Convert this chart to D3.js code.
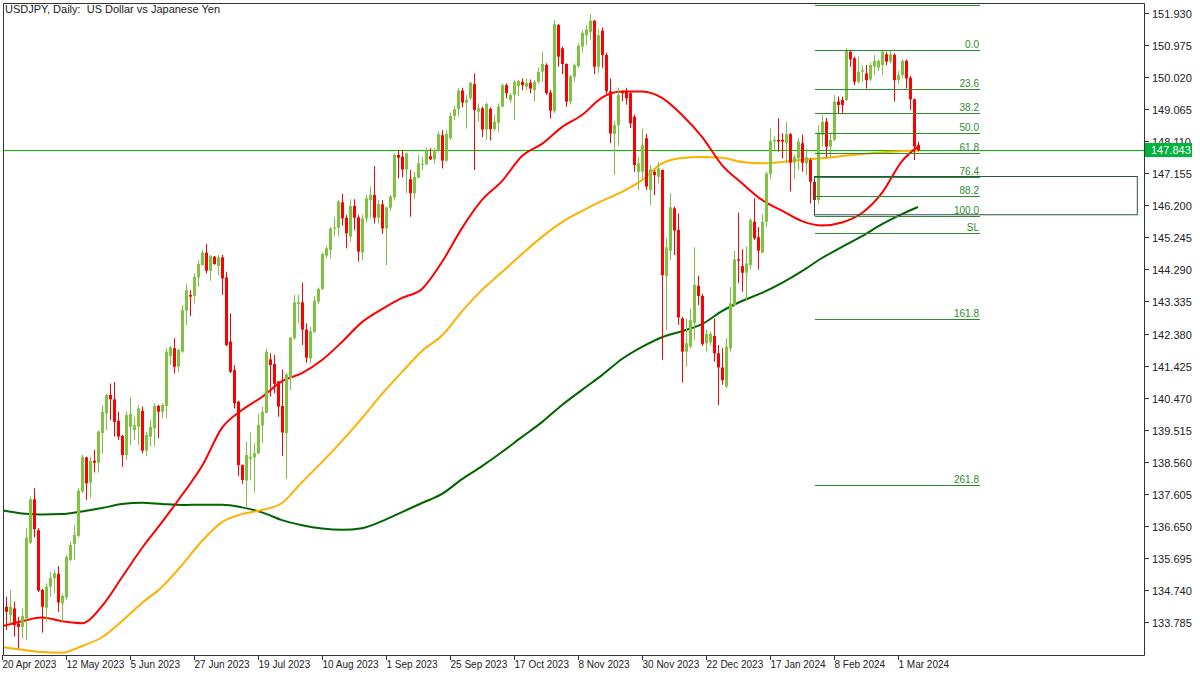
<!DOCTYPE html>
<html><head><meta charset="utf-8">
<script src="https://cdn.jsdelivr.net/npm/d3@7"></script>
<style>
html,body{margin:0;padding:0;background:#fff;}
svg{display:block;}
text{font-family:"Liberation Sans",Arial,sans-serif;}
</style></head>
<body>
<svg id="chart" width="1200" height="675"></svg>
<script>
const title = "USDJPY, Daily:  US Dollar vs Japanese Yen";
const lastPrice = 147.843;
const priceTicks = ["151.930","150.975","150.020","149.065","148.110","147.155","146.200","145.245","144.290","143.335","142.380","141.425","140.470","139.515","138.560","137.605","136.650","135.695","134.740","133.785"];
const dateLabels = ["20 Apr 2023","12 May 2023","5 Jun 2023","27 Jun 2023","19 Jul 2023","10 Aug 2023","1 Sep 2023","25 Sep 2023","17 Oct 2023","8 Nov 2023","30 Nov 2023","22 Dec 2023","17 Jan 2024","8 Feb 2024","1 Mar 2024"];
const dateLabelBars = [0,16,32,48,64,80,96,112,128,144,160,176,192,208,224];

// daily candles [open, high, low, close]
const candles = [
[134.72,134.75,134.15,134.19],[134.24,134.54,133.55,134.09],[133.99,134.74,133.74,134.24],[134.19,134.39,133.35,133.69],
[133.74,133.94,133.00,133.64],[133.64,134.19,133.30,133.96],[133.89,136.57,133.25,136.30],[136.15,137.52,136.11,137.44],
[137.44,137.77,136.31,136.55],[136.52,136.58,134.68,134.72],[134.74,134.77,133.47,134.24],[134.21,134.94,133.79,134.84],
[134.84,135.28,134.54,135.09],[135.09,135.33,134.64,135.24],[135.22,135.45,134.09,134.37],[134.34,134.62,133.79,134.56],
[134.52,135.78,134.44,135.73],[135.63,136.18,135.60,136.08],[136.11,136.67,135.63,136.38],[136.35,137.77,136.31,137.70],
[137.67,138.76,137.62,138.71],[138.69,138.71,137.42,137.92],[137.94,138.71,137.47,138.59],[138.59,138.91,138.24,138.53],
[138.53,139.49,138.24,139.46],[139.41,140.25,138.81,140.05],[140.00,140.58,139.50,140.55],[140.55,140.89,139.80,140.42],
[140.42,140.94,139.31,139.75],[139.78,140.05,139.21,139.31],[139.33,139.36,138.41,138.76],[138.76,140.05,138.61,139.95],
[139.60,140.48,139.06,139.98],[139.50,139.90,139.21,139.65],[139.60,140.25,139.06,140.15],[140.08,140.20,138.81,138.89],
[138.89,139.46,138.73,139.36],[139.31,139.80,139.01,139.60],[139.55,140.30,139.01,140.22],[140.22,140.25,139.26,140.05],
[140.05,140.30,139.85,140.25],[140.22,141.94,139.85,141.84],[141.71,142.01,141.44,141.97],[141.94,142.24,141.19,141.39],
[141.39,141.92,141.24,141.89],[141.84,143.23,141.80,143.08],[143.06,143.87,142.63,143.67],[143.53,143.67,142.90,143.48],
[143.50,144.17,143.28,144.07],[144.05,144.57,143.77,144.45],[144.42,144.87,144.40,144.79],[144.79,145.05,144.17,144.25],
[144.25,144.72,143.95,144.69],[144.67,144.69,144.43,144.45],[144.39,144.72,144.12,144.65],[144.65,144.72,143.53,144.02],
[144.05,144.22,142.00,142.04],[142.14,142.98,141.20,141.24],[141.29,141.44,140.15,140.30],[140.35,140.38,138.14,138.46],
[138.46,138.48,137.90,138.02],[138.00,139.16,137.22,138.76],[138.65,139.43,138.00,138.71],[138.69,139.11,137.64,138.81],
[138.81,139.98,138.79,139.66],[139.64,140.20,139.11,140.05],[140.02,141.94,140.00,141.84],[141.61,141.79,140.50,141.44],
[141.47,141.74,140.60,140.88],[140.95,140.97,139.90,140.20],[140.22,141.31,138.73,139.43],[139.41,141.20,138.04,141.15],
[141.05,142.28,140.70,142.26],[142.24,143.53,142.19,143.31],[143.26,143.53,142.68,143.31],[143.31,143.90,142.04,142.50],
[142.50,142.68,141.51,141.66],[141.64,142.58,141.49,142.45],[142.43,143.50,142.40,143.36],[143.33,143.75,143.26,143.71],
[143.70,144.80,143.68,144.75],[144.70,144.99,144.62,144.92],[144.87,145.56,144.62,145.51],[145.50,145.86,145.27,145.54],
[145.53,146.36,145.27,146.31],[146.29,146.54,145.59,145.81],[145.83,145.91,144.92,145.37],[145.27,146.38,145.12,146.18],
[146.18,146.38,145.47,145.83],[145.84,145.91,144.52,144.82],[144.79,145.91,144.57,145.81],[145.81,146.51,145.68,146.41],
[146.36,146.76,145.81,146.51],[146.51,147.37,145.66,145.83],[145.83,146.36,145.66,146.24],[146.23,146.36,145.35,145.51],
[145.51,146.16,144.42,146.14],[146.13,146.51,146.04,146.46],[146.44,147.75,146.34,147.70],[147.70,147.85,147.00,147.62],
[147.65,147.85,147.03,147.27],[147.27,147.77,146.56,147.75],[146.98,147.25,145.86,146.56],[146.56,147.20,146.38,147.05],
[147.02,147.70,147.00,147.45],[147.40,147.65,147.25,147.43],[147.42,147.93,147.40,147.83],[147.66,147.90,147.55,147.57],
[147.57,147.90,147.43,147.85],[147.85,148.40,147.80,148.32],[148.29,148.44,147.30,147.53],[147.53,148.44,147.50,148.33],
[148.20,148.96,148.15,148.86],[148.86,149.16,148.74,149.06],[149.06,149.69,148.84,149.62],[149.62,149.70,149.12,149.26],
[149.26,149.49,148.49,149.34],[149.40,149.88,149.34,149.85],[149.81,150.13,147.25,149.04],[148.99,149.24,148.69,149.09],
[149.09,149.14,148.23,148.46],[148.46,149.26,148.15,149.22],[149.07,149.12,148.13,148.47],[148.47,148.89,148.40,148.69],
[148.66,149.24,148.39,149.14],[149.14,149.83,149.12,149.78],[149.78,149.83,149.39,149.54],[149.34,149.54,149.26,149.49],
[149.49,149.93,148.74,149.88],[149.75,149.93,149.46,149.91],[149.88,149.98,149.63,149.78],[149.73,149.98,149.63,149.85],
[149.85,149.95,149.54,149.68],[149.63,149.93,149.29,149.88],[149.88,150.31,149.83,150.18],[150.18,150.78,149.88,150.41],
[150.38,150.43,149.49,149.54],[149.56,149.64,148.79,149.02],[149.00,151.72,148.95,151.60],[151.57,151.60,150.33,150.63],
[150.88,150.93,150.11,150.41],[150.41,150.43,149.14,149.29],[149.29,150.08,149.20,150.05],[150.03,150.43,149.88,150.38],
[150.35,151.03,150.30,150.95],[150.93,151.42,150.75,151.34],[151.27,151.57,150.98,151.44],[151.37,151.90,151.13,151.70],
[151.70,151.72,150.11,150.33],[150.33,151.45,150.15,151.27],[151.40,151.50,150.30,150.68],[150.68,150.75,149.50,149.60],
[149.60,149.98,148.05,148.34],[148.33,148.70,147.10,148.59],[148.59,149.71,147.97,149.49],[149.59,149.62,149.30,149.54],
[149.60,149.70,149.20,149.39],[149.54,149.60,148.50,148.64],[148.84,148.90,147.20,147.40],[147.20,147.65,146.66,147.45],
[147.20,148.49,146.95,148.00],[148.20,148.33,146.66,146.76],[146.66,147.40,146.21,147.27],[147.20,147.25,146.50,147.10],
[147.05,147.50,146.85,147.30],[147.25,147.27,141.59,144.12],[144.09,145.22,142.49,144.95],[144.85,146.56,144.57,146.14],
[146.11,146.16,144.72,145.45],[145.47,145.96,142.64,142.86],[142.83,142.88,140.92,141.84],[141.84,142.83,141.39,142.09],
[141.99,143.13,141.94,142.78],[142.70,144.95,142.19,143.83],[143.80,144.10,143.23,143.50],[143.50,143.56,142.01,142.07],
[142.09,142.49,141.84,142.37],[142.12,142.44,142.03,142.37],[142.31,142.83,141.54,141.79],[141.79,142.04,140.25,141.37],
[141.37,141.94,140.85,140.99],[140.80,142.24,140.75,141.99],[141.94,143.76,141.84,143.28],[143.23,144.85,143.18,144.59],
[144.59,145.98,143.88,144.55],[144.39,144.89,143.63,144.19],[144.19,144.97,143.38,144.47],[144.42,145.81,144.29,145.76],
[145.71,146.41,145.17,145.22],[145.25,145.55,144.29,144.85],[144.79,145.94,144.77,145.71],[145.71,147.20,145.55,147.15],
[147.13,148.49,146.98,148.12],[148.10,148.25,147.85,148.15],[148.15,148.79,147.80,148.10],[148.15,148.35,147.60,148.10],
[148.05,148.69,147.45,148.32],[148.32,148.35,146.61,147.47],[147.47,147.70,146.99,147.63],[147.60,148.20,147.25,148.10],
[148.05,148.30,147.20,147.47],[147.45,147.90,147.10,147.63],[147.55,147.60,146.26,146.90],[146.90,147.00,145.89,146.36],
[146.36,148.59,146.24,148.34],[148.30,148.89,147.95,148.69],[148.69,148.80,147.63,147.95],[147.95,148.35,147.65,148.15],
[148.15,149.49,148.12,149.29],[149.29,149.44,148.94,149.19],[149.34,149.44,148.94,149.19],[149.34,150.88,149.30,150.83],
[150.78,150.80,150.33,150.55],[150.58,150.63,149.78,149.88],[149.88,150.63,149.83,150.18],[150.18,150.38,149.88,150.23],
[150.13,150.38,149.68,149.93],[149.95,150.45,149.90,150.38],[150.33,150.68,150.08,150.50],[150.30,150.55,150.20,150.50],
[150.38,150.83,150.08,150.78],[150.70,150.78,150.38,150.48],[150.48,150.80,150.43,150.70],[150.68,150.73,149.29,149.93],
[149.93,150.20,149.80,150.08],[150.08,150.55,149.98,150.50],[150.50,150.55,149.68,149.98],[150.00,150.05,149.04,149.36],
[149.36,149.38,147.55,147.95],[148.00,148.10,147.80,147.843]
];

// moving averages sampled on bar indices
const maBars = [0,5,10,15,20,25,30,35,40,45,50,55,60,65,70,75,80,85,90,95,100,105,110,115,120,125,130,135,140,145,150,155,160,165,170,175,180,185,190,195,200,205,210,215,220,225,229];
const maRed = [133.66,133.81,133.92,133.81,133.75,134.26,135.12,135.99,136.76,137.57,138.43,139.57,140.10,140.49,140.96,141.20,141.59,142.13,142.72,143.11,143.44,143.71,144.51,145.52,146.36,146.92,147.67,148.03,148.53,148.89,149.41,149.59,149.59,149.40,148.89,148.24,147.40,146.86,146.36,146.04,145.73,145.60,145.69,145.97,146.57,147.52,147.95];
const maOrange = [133.04,132.96,132.89,132.87,133.07,133.33,133.81,134.35,134.83,135.48,136.20,136.76,137.00,137.12,137.33,137.95,138.55,139.18,139.86,140.58,141.23,141.86,142.32,143.04,143.68,144.21,144.75,145.26,145.70,146.03,146.33,146.60,146.95,147.45,147.61,147.64,147.62,147.49,147.45,147.49,147.56,147.60,147.67,147.73,147.78,147.82,147.83];
const maGreen = [137.11,137.02,136.99,137.00,137.08,137.18,137.30,137.34,137.30,137.27,137.28,137.28,137.20,137.05,136.82,136.67,136.57,136.53,136.58,136.79,137.06,137.33,137.60,138.04,138.43,138.85,139.30,139.74,140.25,140.70,141.14,141.62,141.98,142.27,142.45,142.66,143.05,143.35,143.59,143.89,144.24,144.63,144.96,145.28,145.64,145.94,146.15];

// Fibonacci retracement (anchored Feb 1 low -> Feb high)
const fibHigh = 150.827, fibLow = 145.881;
const fibStartBar = 203, fibEndBar = 245;
const fibLevels = [-27.2, 0, 23.6, 38.2, 50, 61.8, 76.4, 88.2, 100, 110.2, 161.8, 261.8];
const fibNames = ["","0.0","23.6","38.2","50.0","61.8","76.4","88.2","100.0","SL","161.8","261.8"];
// zone rectangle
const zoneBars = [203, 283.7];
const zonePrices = [147.07, 145.93];

const svg = d3.select("#chart");
const L = 3, R = 1144, T = 3, B = 655;
const x = d3.scaleLinear().domain([0, 229]).range([2, 918]);
const y = d3.scaleLinear().domain([133.785, 151.930]).range([622, 13]);

svg.append("defs").append("clipPath").attr("id","plot")
  .append("rect").attr("x",L+0.5).attr("y",T+0.5).attr("width",R-L-0.5).attr("height",B-T-0.5);

const g = svg.append("g").attr("clip-path","url(#plot)");

// current price line
g.append("line").attr("x1",L).attr("x2",R).attr("y1",Math.round(y(lastPrice))+0.5).attr("y2",Math.round(y(lastPrice))+0.5)
  .attr("stroke","#00c000").attr("stroke-width",1);

// moving averages
const maLine = d3.line().x((d,i)=>x(maBars[i])).y(d=>y(d)).curve(d3.curveMonotoneX);
[[maGreen,"#006400"],[maOrange,"#ffb000"],[maRed,"#ff0000"]].forEach(([arr,col])=>{
  g.append("path").attr("d",maLine(arr)).attr("fill","none").attr("stroke",col).attr("stroke-width",2);
});

// candles
const bull = "#80c342", bear = "#ff0000";
const cg = g.append("g");
candles.forEach((c,i)=>{
  const [o,h,l,cl] = c;
  const cx = Math.round(x(i));
  const col = cl >= o ? bull : bear;
  const hi = Math.max(h,o,cl), lo = Math.min(l,o,cl);
  cg.append("line").attr("x1",cx+0.5).attr("x2",cx+0.5).attr("y1",y(hi)).attr("y2",y(lo))
    .attr("stroke",col).attr("stroke-width",1);
  const top = y(Math.max(o,cl)), bot = y(Math.min(o,cl));
  cg.append("rect").attr("x",cx-1).attr("width",3).attr("y",top).attr("height",Math.max(1,bot-top)).attr("fill",col);
});

// fib levels
const fibColor = "#2e8b2e";
const fx1 = x(fibStartBar)+1, fx2 = x(fibEndBar)-2;
fibLevels.forEach((lv,i)=>{
  const p = fibHigh - (fibHigh - fibLow) * lv / 100;
  const yy = Math.round(y(p)) + 0.5;
  g.append("line").attr("x1",fx1).attr("x2",fx2).attr("y1",yy).attr("y2",yy).attr("stroke",fibColor).attr("stroke-width",1);
  if (fibNames[i]) g.append("text").attr("x",fx2-1).attr("y",yy-3).attr("text-anchor","end").attr("font-size",10)
    .attr("fill",fibColor).text(fibNames[i]);
});

// zone rectangle
g.append("rect").attr("x",Math.round(x(zoneBars[0]))+0.5).attr("y",Math.round(y(zonePrices[0]))+0.5)
  .attr("width",x(zoneBars[1])-x(zoneBars[0])).attr("height",y(zonePrices[1])-y(zonePrices[0]))
  .attr("fill","none").attr("stroke","#2f4f4f").attr("stroke-width",1);

// frame
const axisCol = "#333";
svg.append("path").attr("d",`M${L+0.5},${B+0.5}V${T+0.5}H${R+0.5}V${B+0.5}H${L+0.5}`)
  .attr("fill","none").attr("stroke",axisCol).attr("stroke-width",1);

// price axis
priceTicks.forEach(t=>{
  const yy = Math.round(y(+t)) + 0.5;
  svg.append("line").attr("x1",R).attr("x2",R+5).attr("y1",yy).attr("y2",yy).attr("stroke",axisCol);
  svg.append("text").attr("x",R+8).attr("y",yy+4).attr("font-size",11).attr("fill","#222").text(t);
});

// current price tag
const py = Math.round(y(lastPrice));
svg.append("rect").attr("x",R+1).attr("y",py-7).attr("width",47).attr("height",14).attr("fill","#00b33c");
svg.append("text").attr("x",R+7).attr("y",py+4).attr("font-size",11).attr("fill","#fff").text(lastPrice.toFixed(3));

// time axis
dateLabels.forEach((t,i)=>{
  const xx = Math.round(x(dateLabelBars[i])) + 0.5;
  svg.append("line").attr("x1",xx).attr("x2",xx).attr("y1",B).attr("y2",B+5).attr("stroke",axisCol);
  svg.append("text").attr("x",xx).attr("y",B+13).attr("font-size",10).attr("fill","#222").text(t);
});

// title
svg.append("text").attr("x",5).attr("y",13).attr("font-size",11).attr("fill","#222")
  .attr("xml:space","preserve").style("white-space","pre").text(title);
</script>
</body></html>
